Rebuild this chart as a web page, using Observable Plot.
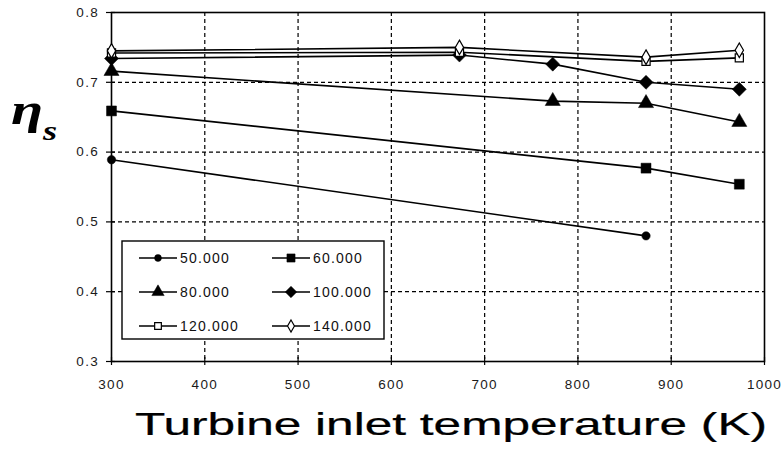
<!DOCTYPE html>
<html>
<head>
<meta charset="utf-8">
<script src="https://cdn.jsdelivr.net/npm/d3@7"></script>
<script src="https://cdn.jsdelivr.net/npm/@observablehq/plot@0.6"></script>
<style>
  html, body { margin: 0; padding: 0; background: #fff; }
  #chart { position: relative; width: 782px; height: 462px; }
</style>
</head>
<body>
<div id="chart"></div>
<script>
// ---- data ----
const temps = [300, 673, 773, 873, 973];
const seriesNames = ["50.000", "60.000", "80.000", "100.000", "120.000", "140.000"];
const eta50  = [0.589, null,  null,  0.480, null ];
const eta60  = [0.659, null,  null,  0.577, 0.554];
const eta80  = [0.716, null,  0.673, 0.670, 0.643];
const eta100 = [0.734, 0.739, 0.726, 0.700, 0.690];
const eta120 = [0.742, 0.743, null,  0.730, 0.735];
const eta140 = [0.745, 0.750, null,  0.736, 0.746];
const xTicks = [300, 400, 500, 600, 700, 800, 900, 1000];
const yTicks = [0.3, 0.4, 0.5, 0.6, 0.7, 0.8];
const xGrid = [400, 500, 600, 700, 800, 900];
const yGrid = [0.4, 0.5, 0.6, 0.7];
const xTitle = "Turbine inlet temperature (K)";

// ---- styling ----
const symbols = ["circle", "square", "triangle", "diamond2", "square", "diamond"];
const filled  = [true, true, true, true, false, false];
const radius  = [4.2, 5.6, 5.6, 6.3, 4.6, 4.4];
const d3sym = {circle: d3.symbolCircle, square: d3.symbolSquare, triangle: d3.symbolTriangle,
               diamond: d3.symbolDiamond, diamond2: d3.symbolDiamond2};

const allEta = [eta50, eta60, eta80, eta100, eta120, eta140];
const rows = [];
allEta.forEach((arr, si) => arr.forEach((v, i) => {
  if (v != null) rows.push({s: seriesNames[si], t: temps[i], v});
}));

const marks = [
  Plot.ruleX(xGrid, {stroke: "black", strokeWidth: 1.2, strokeDasharray: "4,3"}),
  Plot.ruleY(yGrid, {stroke: "black", strokeWidth: 1.2, strokeDasharray: "4,3"}),
  Plot.ruleX(xTicks, {x: d => d, y1: 0.3, y2: 0.3, insetTop: -4, insetBottom: -4, stroke: "black", strokeWidth: 1.2}),
  Plot.ruleY(yTicks, {y: d => d, x1: 300, x2: 300, insetLeft: -5, insetRight: -4, stroke: "black", strokeWidth: 1.2}),
  Plot.frame({stroke: "black", strokeWidth: 1.6}),
  Plot.axisX({ticks: xTicks, tickSize: 0, tickPadding: 18, label: null, fontSize: 13.5, tickFormat: d3.format("d")}),
  Plot.axisY({ticks: yTicks, tickSize: 0, tickPadding: 12.5, label: null, fontSize: 13.5, tickFormat: d3.format(".1f")}),
  Plot.line(rows, {x: "t", y: "v", z: "s", stroke: "black", strokeWidth: 1.6})
];
seriesNames.forEach((name, si) => {
  marks.push(Plot.dot(rows.filter(d => d.s === name), {
    x: "t", y: "v", symbol: () => symbols[si], r: radius[si],
    fill: filled[si] ? "black" : "white", stroke: "black", strokeWidth: filled[si] ? 0.5 : 1.2
  }));
});

const plot = Plot.plot({
  width: 782,
  height: 462,
  marginLeft: 111,
  marginRight: 18,
  marginTop: 12,
  marginBottom: 101,
  style: {fontFamily: "'Liberation Sans', Arial, sans-serif", color: "#1a1a1a", background: "#fff", letterSpacing: "1.3px"},
  x: {domain: [300, 1000]},
  y: {domain: [0.3, 0.8]},
  symbol: {type: "identity"},
  marks
});
document.getElementById("chart").appendChild(plot);

const svg = d3.select(plot);

// y-axis label (eta_s)
const eta = svg.append("text")
  .attr("transform", "translate(11,124) scale(1.3,1)")
  .attr("text-anchor", "start")
  .attr("letter-spacing", 0)
  .attr("font-family", "'Liberation Serif', 'Times New Roman', serif")
  .attr("font-weight", "bold").attr("font-style", "italic")
  .attr("font-size", 45).attr("fill", "black");
eta.append("tspan").text("η");
eta.append("tspan").attr("font-size", 28).attr("dy", 16).text("s");

// x-axis title
svg.append("text")
  .attr("transform", "translate(451,435) scale(1.55,1)")
  .attr("text-anchor", "middle")
  .attr("letter-spacing", 0)
  .attr("font-family", "'Liberation Sans', Arial, sans-serif")
  .attr("font-size", 32).attr("fill", "black")
  .attr("stroke", "black").attr("stroke-width", 0.25)
  .text(xTitle);

// legend box
const lg = svg.append("g");
lg.append("rect").attr("x", 122).attr("y", 241).attr("width", 262).attr("height", 98)
  .attr("fill", "white").attr("stroke", "black").attr("stroke-width", 1.4);
seriesNames.forEach((name, si) => {
  const col = si % 2, row = Math.floor(si / 2);
  const x0 = col === 0 ? 139 : 272;
  const cy = 258 + row * 34;
  lg.append("line").attr("x1", x0).attr("x2", x0 + 38).attr("y1", cy).attr("y2", cy)
    .attr("stroke", "black").attr("stroke-width", 1.5);
  const r = radius[si] * 0.82;
  lg.append("path")
    .attr("d", d3.symbol(d3sym[symbols[si]], Math.PI * r * r)())
    .attr("transform", `translate(${x0 + 19},${cy})`)
    .attr("fill", filled[si] ? "black" : "white").attr("stroke", "black")
    .attr("stroke-width", filled[si] ? 0.5 : 1.2);
  lg.append("text")
    .attr("x", x0 + 41).attr("y", cy + 5)
    .attr("text-anchor", "start")
    .attr("letter-spacing", "1.2px")
    .attr("font-family", "'Liberation Sans', Arial, sans-serif")
    .attr("font-size", 14).attr("fill", "#111")
    .text(name);
});
</script>
</body>
</html>
